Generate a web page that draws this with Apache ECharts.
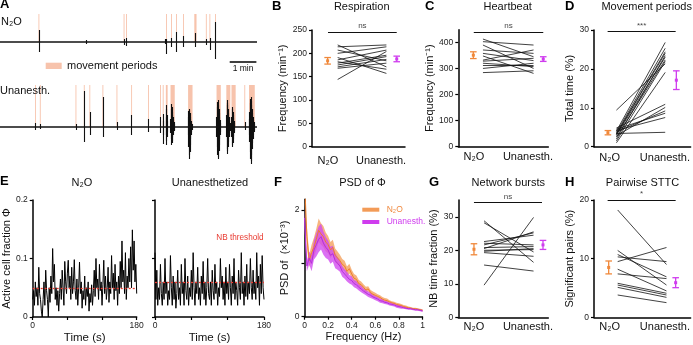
<!DOCTYPE html>
<html>
<head>
<meta charset="utf-8">
<script src="https://cdn.jsdelivr.net/npm/echarts@6.0.0/dist/echarts.min.js"></script>
<style>
  html, body { margin: 0; padding: 0; background: #fff; }
  #chart { width: 693px; height: 345px; }
</style>
</head>
<body>
<div id="chart"></div>
<script>
// colours / font
const FONT = '"Liberation Sans", Arial, Helvetica, sans-serif';
const ORANGE = '#F0883A';
const PURPLE = '#CF3CEE';
const PINK = '#F7C3AC';
const RED = '#E83A30';
const GROUPS = ['N₂O', 'Unanesth.'];

// ---- A: raw traces, [time (s), amplitude up, amplitude down]
const n2oSpikes = [[87.6, 12, 10], [193, 2, 2], [279, 3, 3], [284.6, 4, 4], [371, 3, 2], [374.5, 3, 12],
  [385.7, 4, 5], [397, 10, 10], [412.7, 6, 5], [439.6, 9, 5], [464, 3, 3], [472, 4, 8], [484.6, 20, 17]];
const unanSpikes = [[80, 4, 3], [90.6, 3, 2], [170.8, 3, 3], [189.5, 36, 15], [202, 15, 8], [231.4, 30, 10],
  [263, 5, 3], [296, 12, 8], [334, 8, 5], [361, 10, 6], [367, 13, 17], [368, 6, 8], [373, 10, 8],
  [374, 18, 14], [375, 22, 18], [376, 12, 10], [377, 6, 5], [550.5, 5, 3]];
const burst1 = [[383.5, 8, 6], [384.5, 18, 12], [385.5, 23, 18], [386.5, 20, 16], [387.5, 15, 14], [388.5, 12, 10],
  [389.5, 10, 8], [390.5, 7, 6], [391.5, 5, 4], [392.5, 3, 3]];
const burst2 = [[423, 10, 8], [424, 16, 20], [425, 18, 28], [426, 17, 32], [427, 14, 25], [428, 10, 18],
  [429, 8, 12], [430, 6, 8], [431, 4, 5], [432, 3, 3]];
const burst3 = [[487, 10, 10], [488, 20, 20], [489, 25, 28], [490, 27, 32], [491, 22, 30], [492, 18, 24],
  [493, 14, 18], [494, 10, 12], [495, 7, 8], [496, 4, 5]];
const burst4 = [[509, 12, 10], [510, 24, 22], [511, 27, 27], [512, 22, 24], [513, 18, 20], [514, 14, 15],
  [515, 10, 10], [516, 6, 6], [517, 4, 4]];
const burst5 = [[520.5, 10, 10], [521.5, 20, 18], [522.5, 18, 20], [523.5, 15, 16], [524.5, 12, 12],
  [525.5, 9, 9], [526.5, 6, 6], [527.5, 4, 4]];
const burst6 = [[560, 8, 8], [561, 15, 15], [562, 24, 25], [563, 28, 32], [564, 30, 37], [565, 26, 34],
  [566, 22, 28], [567, 18, 22], [568, 14, 16], [569, 10, 12], [570, 7, 8], [571, 5, 5], [572, 3, 3]];
const n2oMovement = [[86.5, 88.5], [278, 280], [283.5, 285.5], [373.5, 375.5], [384.7, 386.7], [396, 398],
  [411.7, 413.7], [437, 442], [463, 465], [471, 473], [483.6, 485.6]];
const unanMovement = [[79, 81], [89.6, 91.6], [169.8, 171.8], [188.5, 190.5], [201, 203], [230.4, 232.4],
  [262, 264], [295, 297], [333, 335], [360, 362], [366, 368], [373, 377], [383.5, 393], [423, 433],
  [487, 496.6], [509, 518], [520.6, 530], [549.5, 551.5], [560, 573]];

// ---- B-D, G, H: paired values per animal, and [mean, sem]
const respN2O = [218, 214, 207, 200, 191, 186, 182, 179, 175, 171, 168, 144];
const respUnanesth = [171, 218, 184, 214, 157, 207, 166, 196, 193, 187, 179, 204];
const respStats = [[184, 7], [188, 6]];
const heartN2O = [414, 404, 391, 372, 359, 349, 333, 329, 321, 312, 301, 285];
const heartUnanesth = [346, 391, 301, 359, 331, 282, 372, 340, 308, 312, 321, 292];
const heartStats = [[352, 13], [337, 9]];
const moveN2O = [9.4, 4.8, 4.5, 4.2, 4.0, 3.8, 3.6, 3.4, 3.3, 3.2, 3.0, 2.8, 2.5, 2.0, 1.5, 1.0];
const moveUnanesth = [21.3, 10.9, 8.6, 7.5, 26.8, 9.2, 25.3, 3.7, 24.4, 24.0, 23.0, 10.1, 22.3, 23.4, 21.9, 19.1];
const moveStats = [[3.6, 0.55], [17.1, 2.4]];
const nbN2O = [28.8, 28.2, 22.6, 22.1, 21.6, 20.8, 20.5, 20.0, 19.7, 19.3, 15.6, 9.6];
const nbUnanesth = [16.4, 19.5, 24.5, 21.6, 25.2, 21.1, 25.5, 20.2, 20.5, 18.2, 13.8, 29.8];
const nbStats = [[20.3, 1.65], [21.6, 1.35]];
const sttcN2O = [18.3, 11.4, 10.7, 10.3, 9.5, 8.2, 7.4, 5.8, 5.5, 5.1, 3.8];
const sttcUnanesth = [9.0, 5.5, 6.9, 9.5, 11.9, 4.5, 6.6, 4.1, 3.8, 3.4, 2.5];
const sttcStats = [[8.5, 1.1], [5.9, 0.85]];

// ---- E: active cell fraction, one value every 1.5 s
const E_STEP = 1.5;
const phiN2O = [0.03, 0.045, 0.02, 0.06, 0.035, 0.05, 0.02, 0.085, 0.04, 0.03, 0.01,
  0.0, 0.03, 0.06, 0.02, 0.08, 0.045, 0.03, 0.0, 0.05, 0.025,
  0.07, 0.04, 0.117, 0.06, 0.09, 0.03, 0.05, 0.02, 0.045, 0.01,
  0.04, 0.065, 0.03, 0.08, 0.05, 0.02, 0.095, 0.06, 0.04, 0.075,
  0.097, 0.05, 0.07, 0.03, 0.085, 0.04, 0.06, 0.098, 0.045, 0.03,
  0.065, 0.02, 0.05, 0.094, 0.04, 0.06, 0.015, 0.045, 0.03, 0.07,
  0.02, 0.05, 0.035, 0.06, 0.01, 0.04, 0.025, 0.055, 0.02, 0.045,
  0.08, 0.035, 0.1, 0.05, 0.065, 0.03, 0.09, 0.045, 0.06, 0.02,
  0.055, 0.097, 0.04, 0.07, 0.03, 0.05, 0.085, 0.025, 0.06, 0.04,
  0.105, 0.05, 0.075, 0.03, 0.09, 0.045, 0.06, 0.02, 0.07, 0.04,
  0.095, 0.05, 0.13, 0.06, 0.08, 0.04, 0.11, 0.03, 0.07, 0.05,
  0.1, 0.06, 0.12, 0.05, 0.149, 0.08, 0.13, 0.06, 0.09, 0.04];
const phiUnanesth = [0.11, 0.03, 0.08, 0.02, 0.05, 0.03, 0.09, 0.04, 0.02, 0.06, 0.03,
  0.1, 0.04, 0.06, 0.02, 0.045, 0.03, 0.105, 0.05, 0.02, 0.07,
  0.03, 0.06, 0.015, 0.04, 0.08, 0.03, 0.05, 0.02, 0.09, 0.04,
  0.06, 0.02, 0.1, 0.045, 0.03, 0.07, 0.02, 0.05, 0.035, 0.08,
  0.03, 0.11, 0.05, 0.02, 0.06, 0.04, 0.085, 0.03, 0.05, 0.02,
  0.07, 0.04, 0.095, 0.03, 0.06, 0.02, 0.05, 0.1, 0.04, 0.03,
  0.06, 0.02, 0.08, 0.045, 0.03, 0.09, 0.04, 0.06, 0.02, 0.05,
  0.035, 0.1, 0.05, 0.07, 0.03, 0.06, 0.02, 0.085, 0.04, 0.06,
  0.03, 0.09, 0.05, 0.02, 0.07, 0.04, 0.1, 0.03, 0.06, 0.045,
  0.02, 0.08, 0.05, 0.03, 0.11, 0.04, 0.06, 0.02, 0.07, 0.035,
  0.09, 0.03, 0.06, 0.04, 0.1, 0.05, 0.03, 0.08, 0.04, 0.06,
  0.03, 0.11, 0.05, 0.07, 0.02, 0.09, 0.04, 0.105, 0.05, 0.03];
const thresholds = [0.052, 0.059];

// ---- F: PSD (x10^-3), one value every 0.02 Hz
const PSD_STEP = 0.02;
const psdN2O = [2.6, 1.5, 1.05, 1.2, 1.3, 1.45, 1.62, 1.55, 1.5, 1.4, 1.35, 1.25, 1.3, 1.15, 1.1, 1.05,
  0.98, 0.95, 0.85, 0.9, 0.8, 0.72, 0.7, 0.62, 0.6, 0.55, 0.5, 0.52, 0.45, 0.42, 0.4, 0.38, 0.36,
  0.33, 0.31, 0.3, 0.28, 0.26, 0.25, 0.23, 0.22, 0.21, 0.19, 0.18, 0.17, 0.16, 0.15, 0.15, 0.14, 0.13, 0.12];
const psdN2OSem = [0.3, 0.2, 0.12, 0.15, 0.18, 0.2, 0.22, 0.2, 0.2, 0.18, 0.16, 0.15, 0.14, 0.13, 0.12, 0.11,
  0.1, 0.1, 0.09, 0.09, 0.08, 0.08, 0.07, 0.07, 0.06, 0.06, 0.06, 0.05, 0.05, 0.05, 0.05, 0.04, 0.04,
  0.04, 0.04, 0.04, 0.03, 0.03, 0.03, 0.03, 0.03, 0.03, 0.03, 0.03, 0.02, 0.02, 0.02, 0.02, 0.02, 0.02, 0.02];
const psdUnanesth = [1.85, 0.95, 1.1, 1.0, 1.25, 1.35, 1.45, 1.5, 1.38, 1.3, 1.25, 1.15, 1.18, 1.05, 1.0, 0.95,
  0.85, 0.8, 0.75, 0.7, 0.68, 0.62, 0.6, 0.55, 0.52, 0.48, 0.45, 0.42, 0.4, 0.37, 0.35, 0.33, 0.3,
  0.29, 0.27, 0.26, 0.24, 0.23, 0.22, 0.2, 0.19, 0.18, 0.17, 0.16, 0.15, 0.15, 0.14, 0.13, 0.13, 0.12, 0.11];
const psdUnanesthSem = [0.15, 0.1, 0.12, 0.15, 0.18, 0.22, 0.24, 0.24, 0.22, 0.2, 0.18, 0.16, 0.15, 0.14, 0.12, 0.11,
  0.1, 0.09, 0.09, 0.08, 0.08, 0.07, 0.07, 0.06, 0.06, 0.05, 0.05, 0.05, 0.05, 0.04, 0.04, 0.04, 0.04,
  0.04, 0.03, 0.03, 0.03, 0.03, 0.03, 0.03, 0.03, 0.03, 0.02, 0.02, 0.02, 0.02, 0.02, 0.02, 0.02, 0.02, 0.02];

// ------------------------------------------------------------------
const grids = [], xAxes = [], yAxes = [], series = [], graphics = [];
const axisLine = { show: true, onZero: false, lineStyle: { color: '#000', width: 1.5 } };
const tickLabel = { fontFamily: FONT, fontSize: 8.5, color: '#222' };
const nameStyle = { fontFamily: FONT, fontSize: 11, color: '#111' };

function addGrid(box) {
  grids.push(box);
  return grids.length - 1;
}

function hiddenAxes(gi, xmax, ymin, ymax) {
  xAxes.push({ gridIndex: gi, type: 'value', min: 0, max: xmax, show: false });
  yAxes.push({ gridIndex: gi, type: 'value', min: ymin, max: ymax, show: false });
  return [xAxes.length - 1, yAxes.length - 1];
}

function rawTrace(box, events, movement, ymin, ymax, scaleBar) {
  const gi = addGrid(box);
  const [xi, yi] = hiddenAxes(gi, 578, ymin, ymax);
  const base = {
    type: 'lines', coordinateSystem: 'cartesian2d', xAxisIndex: xi, yAxisIndex: yi, silent: true,
    lineStyle: { color: '#111', width: 1.5, opacity: 1 }
  };
  // baseline with movement periods behind it
  const b = Object.assign({}, base, {
    z: 2, data: [{ coords: [[0, 0], [578, 0]] }],
    markArea: {
      silent: true, itemStyle: { color: PINK, opacity: 1 },
      data: movement.map(([s, e]) => [{ xAxis: s, yAxis: 0 }, { xAxis: e, yAxis: ymax }])
    }
  });
  if (scaleBar) {
    b.markLine = {
      silent: true, symbol: ['none', 'none'],
      lineStyle: { color: '#000', width: 1.5, type: 'solid' },
      label: { show: true, position: 'insideMiddleBottom', distance: 2, formatter: '1 min',
        fontFamily: FONT, fontSize: 8.5, color: '#111' },
      data: [[{ coord: scaleBar[0] }, { coord: scaleBar[1] }]]
    };
  }
  series.push(b);
  // spikes: vertical strokes from +up to -down
  series.push(Object.assign({}, base, {
    z: 3, lineStyle: { color: '#111', width: 1.1, opacity: 1 },
    data: events.map(([t, up, down]) => ({ coords: [[t, up], [t, -down]] }))
  }));
}

function renderErrorBar(params, api) {
  const color = params.dataIndex === 0 ? ORANGE : PURPLE;
  const x = api.value(0);
  const m = api.coord([x, api.value(1)]);
  const lo = api.coord([x, api.value(2)]);
  const hi = api.coord([x, api.value(3)]);
  const w = 3.3;
  const st = { stroke: color, lineWidth: 1.3 };
  return {
    type: 'group', children: [
      { type: 'line', shape: { x1: m[0], y1: hi[1], x2: m[0], y2: lo[1] }, style: st },
      { type: 'line', shape: { x1: m[0] - w, y1: hi[1], x2: m[0] + w, y2: hi[1] }, style: st },
      { type: 'line', shape: { x1: m[0] - w, y1: lo[1], x2: m[0] + w, y2: lo[1] }, style: st },
      { type: 'rect', shape: { x: m[0] - 1.5, y: m[1] - 1.5, width: 3, height: 3 }, style: { fill: color } }
    ]
  };
}

function paired(p) {
  const gi = addGrid(p.box);
  const xi = xAxes.length, yi = yAxes.length;
  xAxes.push({
    gridIndex: gi, type: 'value', min: 0, max: 1, axisLine, axisTick: { show: false }, splitLine: { show: false },
    axisLabel: { customValues: [p.at.labL, p.at.labR], formatter: v => (v < 0.5 ? GROUPS[0] : GROUPS[1]),
      margin: p.labelMargin, fontFamily: FONT, fontSize: 11, color: '#111' }
  });
  yAxes.push({
    gridIndex: gi, type: 'value', min: 0, max: p.yMax, name: p.yName, nameLocation: 'middle',
    nameGap: p.nameGap, nameTextStyle: nameStyle, axisLine, splitLine: { show: false },
    axisTick: { show: true, customValues: p.yTicks, length: 3, lineStyle: { color: '#000', width: 1.2 } },
    axisLabel: Object.assign({ customValues: p.yTicks, margin: 5 }, tickLabel)
  });
  series.push({
    type: 'lines', coordinateSystem: 'cartesian2d', xAxisIndex: xi, yAxisIndex: yi, silent: true,
    lineStyle: { color: '#111', width: 0.8, opacity: 1 },
    data: p.left.map((v, k) => ({ coords: [[p.at.lineL, v], [p.at.lineR, p.right[k]]] }))
  });
  series.push({
    type: 'custom', xAxisIndex: xi, yAxisIndex: yi, renderItem: renderErrorBar, silent: true, z: 4,
    data: [
      [p.at.errL, p.stats[0][0], p.stats[0][0] - p.stats[0][1], p.stats[0][0] + p.stats[0][1]],
      [p.at.errR, p.stats[1][0], p.stats[1][0] - p.stats[1][1], p.stats[1][0] + p.stats[1][1]]
    ]
  });
  series.push({
    type: 'lines', coordinateSystem: 'cartesian2d', xAxisIndex: xi, yAxisIndex: yi, silent: true,
    lineStyle: { color: '#111', width: 1.2, opacity: 1 },
    data: [{ coords: [[p.at.sigL, p.sigY], [p.at.sigR, p.sigY]] }]
  });
  series.push({
    type: 'scatter', xAxisIndex: xi, yAxisIndex: yi, symbolSize: 0, silent: true,
    data: [[(p.at.sigL + p.at.sigR) / 2, p.sigY]],
    label: { show: true, position: 'top', distance: 2, formatter: p.sig, fontFamily: FONT, fontSize: 8, color: '#111' }
  });
}

function phiPanel(box, values, thr, showLabels) {
  const gi = addGrid(box);
  xAxes.push({
    gridIndex: gi, type: 'value', min: 0, max: 180, axisLine, splitLine: { show: false },
    name: 'Time (s)', nameLocation: 'middle', nameGap: 15, nameTextStyle: { fontFamily: FONT, fontSize: 11.5, color: '#111' },
    axisTick: { show: true, customValues: [0, 60, 120, 180], length: 3, lineStyle: { color: '#000', width: 1.2 } },
    axisLabel: Object.assign({ customValues: [0, 180], margin: 4 }, tickLabel)
  });
  yAxes.push({
    gridIndex: gi, type: 'value', min: 0, max: 0.2, axisLine, splitLine: { show: false },
    name: showLabels ? 'Active cell fraction Φ' : '', nameLocation: 'middle', nameGap: 15, nameTextStyle: nameStyle,
    axisTick: { show: true, customValues: [0, 0.1, 0.2], length: 3, lineStyle: { color: '#000', width: 1.2 } },
    axisLabel: Object.assign({ show: showLabels, customValues: [0, 0.1, 0.2], margin: 5 }, tickLabel)
  });
  series.push({
    type: 'line', xAxisIndex: xAxes.length - 1, yAxisIndex: yAxes.length - 1, symbol: 'none', silent: true,
    data: values.map((v, i) => [i * E_STEP, v]), lineStyle: { color: '#000', width: 1 },
    markLine: {
      silent: true, symbol: ['none', 'none'], label: { show: false },
      lineStyle: { color: RED, width: 1.3, type: [2, 2] }, data: [{ yAxis: thr }]
    }
  });
}

// ---- A
rawTrace({ left: 0, top: 14, width: 257, height: 52 }, n2oSpikes, n2oMovement, -24, 28,
  [[516.6, -20], [576.6, -20]]);
rawTrace({ left: 0, top: 85, width: 257, height: 82 },
  unanSpikes.concat(burst1, burst2, burst3, burst4, burst5, burst6), unanMovement, -40, 42, null);

// ---- B, C, D
paired({ box: { left: 312, top: 30, width: 93, height: 116.7 }, yMax: 250, yTicks: [0, 50, 100, 150, 200, 250],
  yName: 'Frequency (min⁻¹)', nameGap: 20, left: respN2O, right: respUnanesth, stats: respStats,
  at: { errL: 0.168, lineL: 0.276, lineR: 0.80, errR: 0.911, labL: 0.172, labR: 0.742, sigL: 0.172, sigR: 0.911 },
  sigY: 246, sig: 'ns', labelMargin: 9 });
paired({ box: { left: 458.3, top: 29.7, width: 90, height: 117 }, yMax: 450, yTicks: [0, 100, 200, 300, 400],
  yName: 'Frequency (min⁻¹)', nameGap: 21, left: heartN2O, right: heartUnanesth, stats: heartStats,
  at: { errL: 0.167, lineL: 0.274, lineR: 0.836, errR: 0.944, labL: 0.174, labR: 0.774, sigL: 0.172, sigR: 0.944 },
  sigY: 442, sig: 'ns', labelMargin: 5 });
paired({ box: { left: 594, top: 30, width: 99, height: 116.7 }, yMax: 30, yTicks: [0, 10, 20, 30],
  yName: 'Total time (%)', nameGap: 16, left: moveN2O, right: moveUnanesth, stats: moveStats,
  at: { errL: 0.144, lineL: 0.232, lineR: 0.737, errR: 0.852, labL: 0.162, labR: 0.734, sigL: 0.141, sigR: 0.845 },
  sigY: 29.6, sig: '***', labelMargin: 6 });

// ---- E
phiPanel({ left: 27.3, top: 200, width: 109.4, height: 117.3 }, phiN2O, thresholds[0], true);
phiPanel({ left: 155, top: 200, width: 109, height: 117.3 }, phiUnanesth, thresholds[1], false);

// ---- F
(function () {
  const Y_MAX = 2.2;
  const gi = addGrid({ left: 304.5, top: 199.3, width: 118, height: 117.4 });
  xAxes.push({
    gridIndex: gi, type: 'value', min: 0, max: 1, axisLine, splitLine: { show: false },
    name: 'Frequency (Hz)', nameLocation: 'middle', nameGap: 15, nameTextStyle: nameStyle,
    axisTick: { show: true, customValues: [0, 0.2, 0.4, 0.6, 0.8, 1], length: 3, lineStyle: { color: '#000', width: 1.2 } },
    axisLabel: Object.assign({ customValues: [0, 0.2, 0.4, 0.6, 0.8, 1], margin: 4 }, tickLabel)
  });
  yAxes.push({
    gridIndex: gi, type: 'value', min: 0, max: Y_MAX, axisLine, splitLine: { show: false },
    name: 'PSD of  (×10⁻³)', nameLocation: 'middle', nameGap: 14, nameTextStyle: nameStyle,
    axisTick: { show: true, customValues: [0, 1, 2], length: 3, lineStyle: { color: '#000', width: 1.2 } },
    axisLabel: Object.assign({ customValues: [0, 2], margin: 5 }, tickLabel)
  });
  const xi = xAxes.length - 1, yi = yAxes.length - 1;

  // mean ± sem band, drawn once as a polygon
  function band(mean, sem, color, opacity) {
    const rows = mean.map((m, i) => [i * PSD_STEP, m - sem[i], m + sem[i]]);
    series.push({
      type: 'custom', xAxisIndex: xi, yAxisIndex: yi, silent: true, data: rows,
      renderItem: (params, api) => {
        if (params.dataIndex !== 0) return null;
        const lower = rows.map(r => api.coord([r[0], Math.min(r[1], Y_MAX)]));
        const upper = rows.map(r => api.coord([r[0], Math.min(r[2], Y_MAX)])).reverse();
        return { type: 'polygon', shape: { points: lower.concat(upper) }, style: { fill: color, opacity } };
      }
    });
  }
  function meanLine(mean, color) {
    series.push({ type: 'line', xAxisIndex: xi, yAxisIndex: yi, symbol: 'none', silent: true,
      lineStyle: { color, width: 1 }, data: mean.map((v, i) => [i * PSD_STEP, v]) });
  }
  band(psdN2O, psdN2OSem, '#F4A15F', 0.8);
  meanLine(psdN2O, '#EE7E2C');
  band(psdUnanesth, psdUnanesthSem, '#D24CF0', 0.8);
  meanLine(psdUnanesth, '#B62EDB');
})();

// ---- G, H
paired({ box: { left: 458.3, top: 200, width: 90, height: 117.3 }, yMax: 35, yTicks: [0, 10, 20, 30],
  yName: 'NB time fraction (%)', nameGap: 14, left: nbN2O, right: nbUnanesth, stats: nbStats,
  at: { errL: 0.174, lineL: 0.286, lineR: 0.836, errR: 0.941, labL: 0.174, labR: 0.774, sigL: 0.174, sigR: 0.93 },
  sigY: 34.3, sig: 'ns', labelMargin: 4 });
paired({ box: { left: 594, top: 200, width: 99, height: 117.3 }, yMax: 20, yTicks: [0, 10, 20],
  yName: 'Significant pairs (%)', nameGap: 19, left: sttcN2O, right: sttcUnanesth, stats: sttcStats,
  at: { errL: 0.152, lineL: 0.245, lineR: 0.75, errR: 0.845, labL: 0.162, labR: 0.734, sigL: 0.141, sigR: 0.845 },
  sigY: 20, sig: '*', labelMargin: 4 });

// ---- texts
function txt(text, x, y, extra) {
  graphics.push({ type: 'text', x, y, silent: true, z: 10,
    style: Object.assign({ text, fontFamily: FONT, fontSize: 11, fill: '#111', align: 'center', verticalAlign: 'middle' }, extra) });
}
const letterStyle = { fontSize: 13, fontWeight: 'bold', align: 'left', fill: '#000' };
txt('A', 0, 4.5, letterStyle);
txt('B', 272, 6.5, letterStyle);
txt('C', 425, 6.5, letterStyle);
txt('D', 565, 6.5, letterStyle);
txt('E', 0, 181, letterStyle);
txt('F', 274, 182.5, letterStyle);
txt('G', 429, 182.5, letterStyle);
txt('H', 565, 182.5, letterStyle);

txt('Respiration', 361.7, 6.5);
txt('Heartbeat', 507.7, 6.5);
txt('Movement periods', 646.7, 6.5);
txt('N₂O', 82, 182.5);
txt('Unanesthetized', 210, 182.5);
txt('PSD of Φ', 362.5, 182.5);
txt('Network bursts', 508.3, 182.5);
txt('Pairwise STTC', 642.5, 182.5);

txt('N₂O', 1, 22, { align: 'left' });
txt('Unanesth.', 0, 90.5, { align: 'left' });
graphics.push({ type: 'rect', shape: { x: 45.7, y: 62.7, width: 16, height: 6.3 }, style: { fill: PINK }, silent: true });
txt('movement periods', 67, 66, { align: 'left' });

txt('NB threshold', 240, 238, { fontSize: 8.2, fill: RED });

graphics.push({ type: 'rect', shape: { x: 362.3, y: 207.7, width: 17, height: 4 }, style: { fill: '#F39B57' }, silent: true });
graphics.push({ type: 'rect', shape: { x: 362.3, y: 220, width: 17, height: 4 }, style: { fill: PURPLE }, silent: true });
txt('N₂O', 386.7, 209.7, { align: 'left', fontSize: 8.5, fill: '#F08A40' });
txt('Unanesth.', 386.7, 222, { align: 'left', fontSize: 8.5, fill: PURPLE });

const chart = echarts.init(document.getElementById('chart'));
chart.setOption({
  animation: false,
  backgroundColor: '#fff',
  textStyle: { fontFamily: FONT },
  grid: grids,
  xAxis: xAxes,
  yAxis: yAxes,
  series: series,
  graphic: graphics
});
</script>
</body>
</html>
